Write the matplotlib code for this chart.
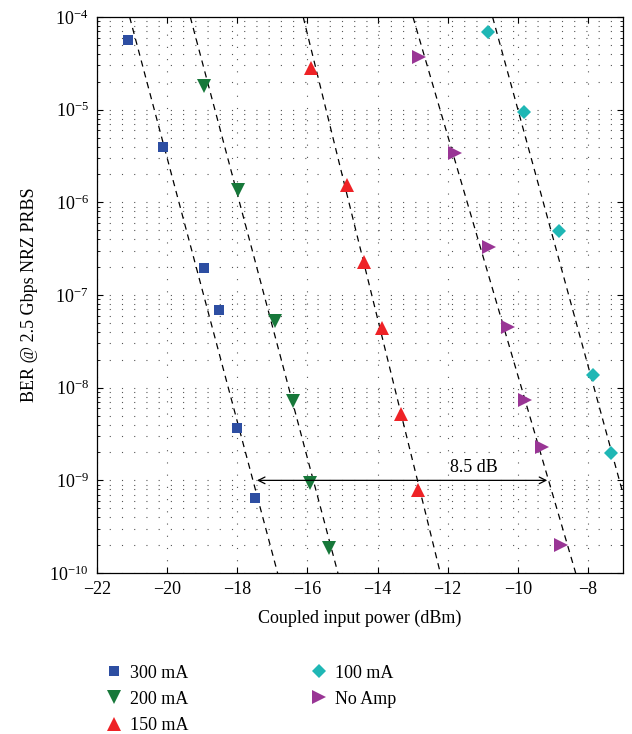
import numpy as np
import matplotlib
matplotlib.use("Agg")
import matplotlib.pyplot as plt

plt.rcParams["font.family"] = ["Liberation Serif", "DejaVu Serif"]
plt.rcParams["mathtext.fontset"] = "stix"

# measured points, (power in dBm, BER)
p300 = [-21.13, -20.11, -18.94, -18.51, -18.0, -17.49]
b300 = [5.65e-5, 3.96e-6, 1.96e-7, 6.9e-8, 3.7e-9, 6.5e-10]

p200 = [-18.96, -17.99, -16.92, -16.41, -15.93, -15.39]
b200 = [1.8e-5, 1.36e-6, 5.26e-8, 7.2e-9, 9.3e-10, 1.87e-10]

p150 = [-15.91, -14.88, -14.40, -13.88, -13.34, -12.85]
b150 = [2.8e-5, 1.55e-6, 2.3e-7, 4.4e-8, 5.2e-9, 7.9e-10]

p100 = [-10.84, -9.82, -8.82, -7.86, -7.33]
b100 = [6.95e-5, 9.5e-6, 4.9e-7, 1.38e-8, 1.96e-9]

pnoamp = [-12.82, -11.78, -10.82, -10.28, -9.80, -9.30, -8.78]
bnoamp = [3.7e-5, 3.4e-6, 3.3e-7, 4.5e-8, 7.4e-9, 2.3e-9, 2.0e-10]

# dashed fit lines: power at BER 1e-4 and at BER 1e-10
fit_ber = [1e-4, 1e-10]
fit_300 = [-21.07, -16.85]
fit_200 = [-19.34, -15.13]
fit_150 = [-16.12, -12.21]
fit_100 = [-10.72, -6.38]
fit_noamp = [-12.99, -8.35]

penalty_x = [-17.44, -9.16]
penalty_ber = 1e-9

series = [
    ("300 mA", p300, b300, fit_300, "s", "#2D4EA2", 7),
    ("200 mA", p200, b200, fit_200, "v", "#17783A", 10),
    ("150 mA", p150, b150, fit_150, "^", "#EE2226", 10),
    ("100 mA", p100, b100, fit_100, "D", "#1FB7B5", 7),
    ("No Amp", pnoamp, bnoamp, fit_noamp, ">", "#993595", 10),
]

fig = plt.figure(figsize=(6.32, 7.34), dpi=100)
ax = fig.add_axes([0.1535, 0.2193, 0.8323, 0.7575])

for label, x, y, fit, marker, color, ms in series:
    ax.plot(fit, fit_ber, color="black", linestyle=(0, (5, 4)), lw=0.9, zorder=2)
    ax.plot(x, y, linestyle="", marker=marker, color=color, markersize=ms,
            markeredgewidth=0, label=label, zorder=3)

ax.annotate("", xy=(penalty_x[0], penalty_ber), xytext=(penalty_x[1], penalty_ber),
            arrowprops=dict(arrowstyle="<->", color="black", lw=0.9,
                            shrinkA=0, shrinkB=0, mutation_scale=12))
ax.text(np.mean(penalty_x) + 2.05, penalty_ber * 1.12, "8.5 dB",
        ha="center", va="bottom", fontsize=13)

ax.set_yscale("log")
ax.set_xlim(-22, -7)
ax.set_ylim(1e-10, 1e-4)
ax.set_xticks([-22, -20, -18, -16, -14, -12, -10, -8])
ax.grid(True, which="major", axis="x", color="#555555", linestyle=(0, (1, 10)), lw=0.8)
ax.grid(True, which="both", axis="y", color="#555555", linestyle=(0, (1, 10)), lw=0.8)
ax.tick_params(which="both", direction="in", top=True, right=True, labelsize=13)
ax.tick_params(which="major", length=4, pad=6)
ax.tick_params(which="minor", length=2)
for s in ax.spines.values():
    s.set_linewidth(0.9)

ax.set_xlabel("Coupled input power (dBm)", fontsize=13, labelpad=8)
ax.set_ylabel("BER @ 2.5 Gbps NRZ PRBS", fontsize=13, labelpad=8)

ax.legend(loc="upper left", bbox_to_anchor=(-0.002, -0.152), ncol=2, frameon=False,
          fontsize=13, handletextpad=0.3, columnspacing=6.6, labelspacing=0.5,
          handlelength=1.2, borderaxespad=0)

fig.savefig("out.png", dpi=100)
